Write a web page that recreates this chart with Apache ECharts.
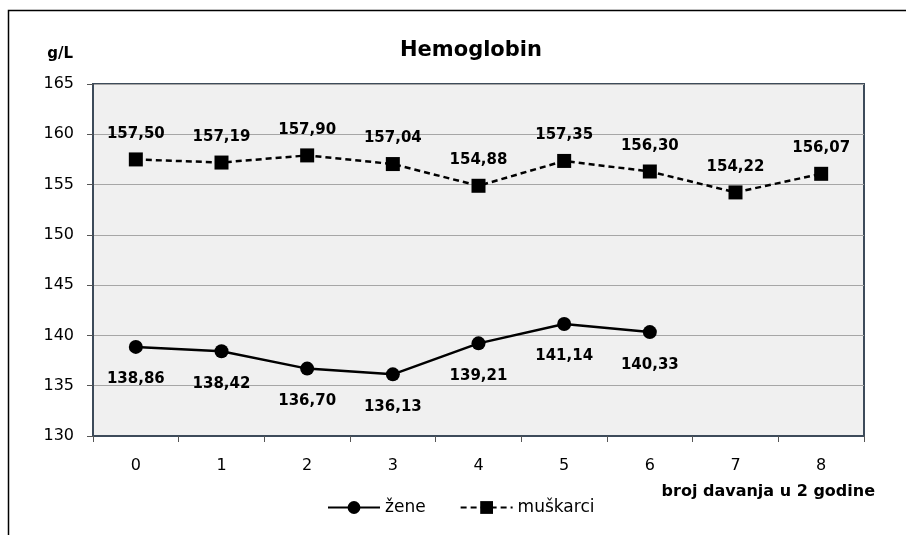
<!DOCTYPE html>
<html>
<head>
<meta charset="utf-8">
<script src="https://cdn.jsdelivr.net/npm/echarts@6/dist/echarts.min.js"></script>
<style>
  html, body { margin: 0; padding: 0; background: #fff; }
  #chart { width: 906px; height: 535px; }
</style>
</head>
<body>
<div id="chart"></div>
<script>
const categories = ["0", "1", "2", "3", "4", "5", "6", "7", "8"];
const zene = [138.86, 138.42, 136.70, 136.13, 139.21, 141.14, 140.33, null, null];
const muskarci = [157.50, 157.19, 157.90, 157.04, 154.88, 157.35, 156.30, 154.22, 156.07];

const font = "DejaVu Sans";
const fmt = (p) => p.value.toFixed(2).replace(".", ",");

var myChart = echarts.init(document.getElementById("chart"));

myChart.setOption({
  animation: false,
  textStyle: { fontFamily: font },
  title: {
    text: "Hemoglobin",
    left: 466,
    top: 35,
    textAlign: "center",
    textStyle: { fontFamily: font, fontSize: 21, fontWeight: "bold", color: "#000" },
  },
  grid: {
    left: 93,
    top: 84,
    width: 771,
    height: 352,
    show: true,
    backgroundColor: "#f0f0f0",
    borderColor: "#3d4b5a",
    borderWidth: 2,
  },
  legend: {
    left: 322,
    top: 494,
    itemGap: 34,
    itemWidth: 52,
    itemHeight: 16,
    textStyle: { fontFamily: font, fontSize: 17, color: "#000" },
    data: ["žene", "muškarci"],
  },
  xAxis: {
    type: "category",
    data: categories,
    boundaryGap: true,
    axisLine: { lineStyle: { color: "#3d4b5a", width: 2 } },
    axisTick: { show: true, length: 6, lineStyle: { color: "#555" } },
    axisLabel: { color: "#000", fontSize: 16, margin: 22, fontFamily: font },
  },
  yAxis: {
    type: "value",
    min: 130,
    max: 165,
    interval: 5,
    name: "g/L",
    nameLocation: "end",
    nameGap: 22,
    nameTextStyle: { fontFamily: font, fontSize: 15, fontWeight: "bold", color: "#000", align: "right", padding: [0, 20, 0, 0] },
    axisLine: { show: true, lineStyle: { color: "#3d4b5a", width: 2 } },
    axisTick: { show: true, length: 6, lineStyle: { color: "#555" } },
    axisLabel: { color: "#000", fontSize: 16, margin: 19, fontFamily: font },
    splitLine: { lineStyle: { color: "#a6a6a6", width: 1.2 } },
  },
  graphic: [
    {
      type: "rect",
      shape: { x: 8.5, y: 10.5, width: 1000, height: 1000 },
      style: { fill: "none", stroke: "#000", lineWidth: 1.5 },
      silent: true,
    },
    {
      type: "text",
      right: 31,
      top: 484,
      style: { text: "broj davanja u 2 godine", fontFamily: font, fontSize: 16, fontWeight: "bold", fill: "#000" },
    },
  ],
  series: [
    {
      name: "žene",
      type: "line",
      data: zene,
      symbol: "circle",
      symbolSize: 14,
      itemStyle: { color: "#000" },
      lineStyle: { color: "#000", width: 2.5 },
      label: {
        show: true,
        position: "bottom",
        distance: 18,
        formatter: fmt,
        fontFamily: font,
        fontSize: 15,
        fontWeight: "bold",
        color: "#000",
      },
    },
    {
      name: "muškarci",
      type: "line",
      data: muskarci,
      symbol: "rect",
      symbolSize: 14,
      itemStyle: { color: "#000" },
      lineStyle: { color: "#000", width: 2.5, type: [6, 4] },
      label: {
        show: true,
        position: "top",
        distance: 11,
        formatter: fmt,
        fontFamily: font,
        fontSize: 15,
        fontWeight: "bold",
        color: "#000",
      },
    },
  ],
});
</script>
</body>
</html>
